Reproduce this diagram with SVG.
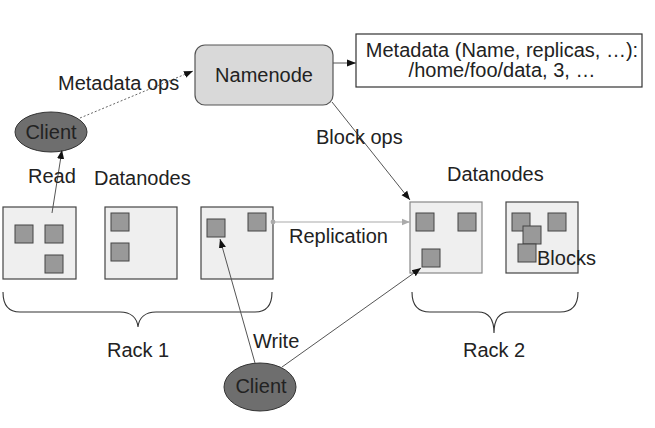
<svg xmlns="http://www.w3.org/2000/svg" width="655" height="428" viewBox="0 0 655 428">
<style>
text{font-family:"Liberation Sans",Arial,sans-serif;font-size:20px;fill:#222}
.dn{fill:#efefef;stroke:#444;stroke-width:1.2}
.blk{fill:#999;stroke:#444;stroke-width:1}
.cl{fill:#6e6e6e;stroke:#333;stroke-width:1}
.ln{stroke:#555;stroke-width:1;fill:none}
.br{stroke:#333;stroke-width:1.1;fill:none}
</style>
<defs>
<marker id="ah" viewBox="0 0 10 10" refX="10" refY="5" markerWidth="9" markerHeight="9" markerUnits="userSpaceOnUse" orient="auto"><path d="M0,1 L10,5 L0,9 z" fill="#111"/></marker>
<marker id="ahg" viewBox="0 0 10 10" refX="10" refY="5" markerWidth="8" markerHeight="8" markerUnits="userSpaceOnUse" orient="auto"><path d="M0,1 L10,5 L0,9 z" fill="#aaa"/></marker>
<marker id="dot" viewBox="0 0 10 10" refX="5" refY="5" markerWidth="6" markerHeight="6" markerUnits="userSpaceOnUse"><circle cx="5" cy="5" r="4" fill="#aaa"/></marker>
</defs>
<rect width="655" height="428" fill="#fff"/>
<g id="namenode">
<rect x="195" y="45" width="138" height="60" rx="10" fill="#d9d9d9" stroke="#555" stroke-width="1.2"/>
<text x="264" y="82" text-anchor="middle">Namenode</text>
</g>
<g id="metadata">
<rect x="356" y="34" width="286" height="53" fill="#fff" stroke="#333" stroke-width="1.2"/>
<text x="502" y="57" text-anchor="middle">Metadata (Name, replicas, …):</text>
<text x="502" y="77" text-anchor="middle">/home/foo/data, 3, …</text>
</g>
<g id="client-read">
<ellipse class="cl" cx="51" cy="132" rx="36" ry="20"/>
<text x="51" y="139" text-anchor="middle">Client</text>
</g>
<g id="client-write">
<ellipse class="cl" cx="260" cy="387" rx="36" ry="24"/>
<text x="261" y="393" text-anchor="middle">Client</text>
</g>
<g id="rack1">
<text x="94" y="185">Datanodes</text>
<g id="dn1">
<rect class="dn" x="3" y="207" width="73" height="72"/>
<rect class="blk" x="15" y="225" width="18" height="18"/>
<rect class="blk" x="45" y="225" width="18" height="18"/>
<rect class="blk" x="45" y="255" width="18" height="18"/>
</g>
<g id="dn2">
<rect class="dn" x="105" y="207" width="72" height="72"/>
<rect class="blk" x="111" y="213" width="18" height="18"/>
<rect class="blk" x="111" y="243" width="18" height="18"/>
</g>
<g id="dn3">
<rect class="dn" x="201" y="207" width="72" height="72"/>
<rect class="blk" x="207" y="219" width="18" height="18"/>
<rect class="blk" x="248" y="213" width="18" height="18"/>
</g>
<path class="br" d="M3,292 C3,305 8,312 20,312 L120,312 C131,312 137,318 138,327 C139,318 145,312 156,312 L255,312 C267,312 272,305 272,292"/>
<text x="107" y="357">Rack 1</text>
</g>
<g id="rack2">
<text x="447" y="181">Datanodes</text>
<g id="dn4">
<rect x="410" y="202" width="72" height="71" fill="#efefef" stroke="#888" stroke-width="1.2"/>
<rect class="blk" x="416" y="213" width="18" height="18"/>
<rect class="blk" x="458" y="213" width="18" height="18"/>
<rect class="blk" x="422" y="249" width="18" height="18"/>
</g>
<g id="dn5">
<rect class="dn" x="506" y="202" width="72" height="71"/>
<rect class="blk" x="512" y="213" width="18" height="18"/>
<rect class="blk" x="548" y="213" width="18" height="18"/>
<rect class="blk" x="523" y="226" width="18" height="18"/>
<rect class="blk" x="518" y="244" width="18" height="18"/>
<text x="537" y="265">Blocks</text>
</g>
<path class="br" d="M412,292 C412,305 418,312 430,312 L478,312 C489,312 494,320 494,333 C494,320 499,312 510,312 L560,312 C572,312 578,305 578,292"/>
<text x="463" y="357">Rack 2</text>
</g>
<g id="connectors">
<line class="ln" x1="333" y1="63" x2="356" y2="63" marker-end="url(#ah)"/>
<line x1="80" y1="118" x2="193" y2="71" stroke="#666" stroke-width="1" stroke-dasharray="2,2" marker-end="url(#ah)"/>
<line class="ln" x1="332" y1="102" x2="410" y2="200" marker-end="url(#ah)"/>
<line class="ln" x1="52" y1="213" x2="62" y2="150" marker-end="url(#ah)"/>
<line x1="273" y1="222" x2="410" y2="222" stroke="#aaa" stroke-width="1.2" marker-start="url(#dot)" marker-end="url(#ahg)"/>
<line class="ln" x1="255" y1="363" x2="220" y2="239" marker-end="url(#ah)"/>
<line class="ln" x1="282" y1="367" x2="421" y2="268" marker-end="url(#ah)"/>
<text x="58" y="90">Metadata ops</text>
<text x="316" y="144">Block ops</text>
<text x="28" y="183">Read</text>
<text x="289" y="243">Replication</text>
<text x="253" y="348">Write</text>
</g>
</svg>
